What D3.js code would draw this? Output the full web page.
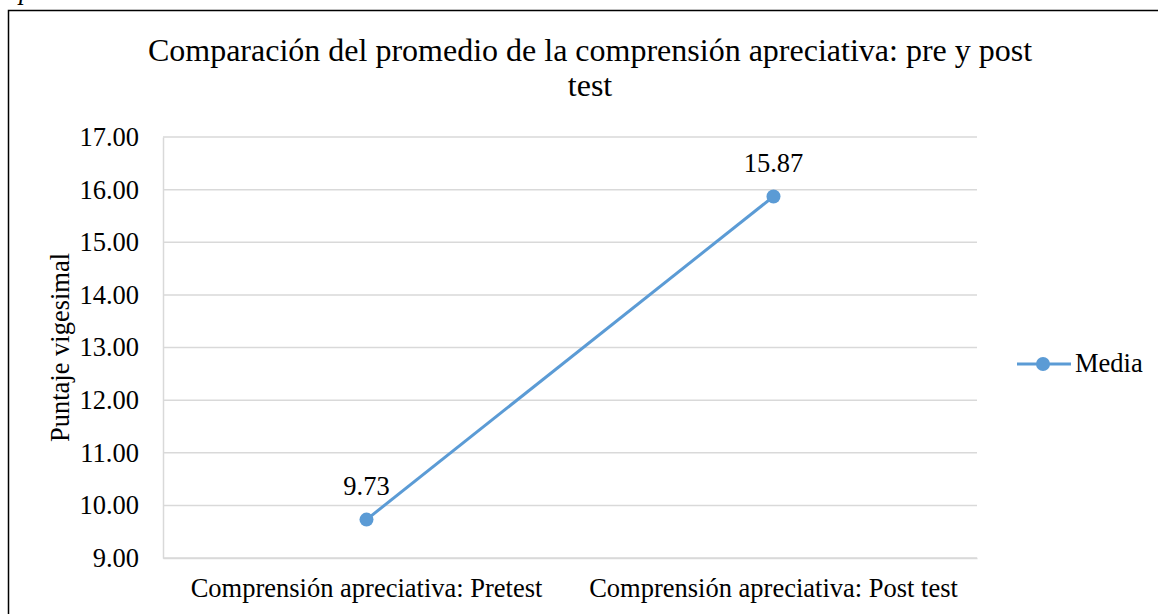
<!DOCTYPE html>
<html>
<head>
<meta charset="utf-8">
<script src="https://cdn.jsdelivr.net/npm/d3@7"></script>
<style>
  html, body { margin: 0; padding: 0; background: #fff; }
  svg { display: block; }
  svg text { font-family: "Liberation Serif", "Times New Roman", serif; fill: #000; }
</style>
</head>
<body>
<svg id="chart" width="1158" height="614"></svg>
<script>
// Chart data
const categories = ["Comprensión apreciativa: Pretest", "Comprensión apreciativa: Post test"];
const mediaValues = [9.73, 15.87];
const yTicks = [9, 10, 11, 12, 13, 14, 15, 16, 17];
const seriesName = "Media";
const titleLines = ["Comparación del promedio de la comprensión apreciativa: pre y post", "test"];
const yAxisTitle = "Puntaje vigesimal";

const svg = d3.select("#chart");
const W = 1158, H = 614;
const plot = { left: 163, right: 977, top: 137, bottom: 558 };
const lineColor = "#5B9BD5";
const gridColor = "#d9d9d9";
const fs = 26.5;

// Caption fragment above the frame
svg.append("text")
  .attr("x", 19).attr("y", -1)
  .style("font-size", fs + "px").style("font-style", "italic")
  .text("p");

// Outer frame
svg.append("rect")
  .attr("x", 8.5).attr("y", 10.5)
  .attr("width", W + 20).attr("height", H + 20)
  .attr("fill", "none").attr("stroke", "#000").attr("stroke-width", 1.5);

const x = d3.scaleBand().domain(categories).range([plot.left, plot.right]);
const y = d3.scaleLinear().domain([9, 17]).range([plot.bottom, plot.top]);

// Gridlines
svg.append("g")
  .selectAll("line").data(yTicks).join("line")
  .attr("x1", plot.left).attr("x2", plot.right)
  .attr("y1", d => y(d)).attr("y2", d => y(d))
  .attr("stroke", gridColor).attr("stroke-width", 1.5);

// Y axis
const yAxis = svg.append("g")
  .attr("transform", `translate(${plot.left},0)`)
  .call(d3.axisLeft(y).tickValues(yTicks).tickFormat(d3.format(".2f")).tickSize(0).tickPadding(24));
yAxis.select(".domain").attr("stroke", gridColor).attr("stroke-width", 1.5);
yAxis.selectAll("text")
  .style("font-size", fs + "px").attr("dy", "0.32em");

// X axis
const xAxis = svg.append("g")
  .attr("transform", `translate(0,${plot.bottom})`)
  .call(d3.axisBottom(x).tickSize(0).tickPadding(0));
xAxis.select(".domain").attr("stroke", gridColor).attr("stroke-width", 1.5);
xAxis.selectAll("text")
  .style("font-size", fs + "px")
  .attr("y", 39).attr("dy", 0);

// Line and markers
const cx = d => x(d.cat) + x.bandwidth() / 2;
const points = categories.map((c, i) => ({ cat: c, v: mediaValues[i] }));
svg.append("path")
  .datum(points)
  .attr("fill", "none").attr("stroke", lineColor).attr("stroke-width", 3)
  .attr("d", d3.line().x(cx).y(d => y(d.v)));
svg.append("g").selectAll("circle").data(points).join("circle")
  .attr("cx", cx).attr("cy", d => y(d.v)).attr("r", 7)
  .attr("fill", lineColor);

// Data labels
svg.append("g").selectAll("text").data(points).join("text")
  .attr("x", cx).attr("y", d => y(d.v) - 24.5)
  .attr("text-anchor", "middle").style("font-size", fs + "px")
  .text(d => d.v.toFixed(2));

// Title
svg.append("g").selectAll("text").data(titleLines).join("text")
  .attr("x", 590).attr("y", (d, i) => 61 + i * 35)
  .attr("text-anchor", "middle").style("font-size", "32px")
  .text(d => d);

// Y axis title
svg.append("text")
  .attr("transform", `translate(69,${(plot.top + plot.bottom) / 2}) rotate(-90)`)
  .attr("text-anchor", "middle").style("font-size", fs + "px")
  .text(yAxisTitle);

// Legend
const lg = svg.append("g").attr("transform", "translate(1017,364)");
lg.append("line").attr("x1", 0).attr("x2", 54).attr("y1", 0).attr("y2", 0)
  .attr("stroke", lineColor).attr("stroke-width", 3);
lg.append("circle").attr("cx", 26).attr("cy", 0).attr("r", 7).attr("fill", lineColor);
lg.append("text").attr("x", 58).attr("y", 8)
  .style("font-size", fs + "px").text(seriesName);
</script>
</body>
</html>
